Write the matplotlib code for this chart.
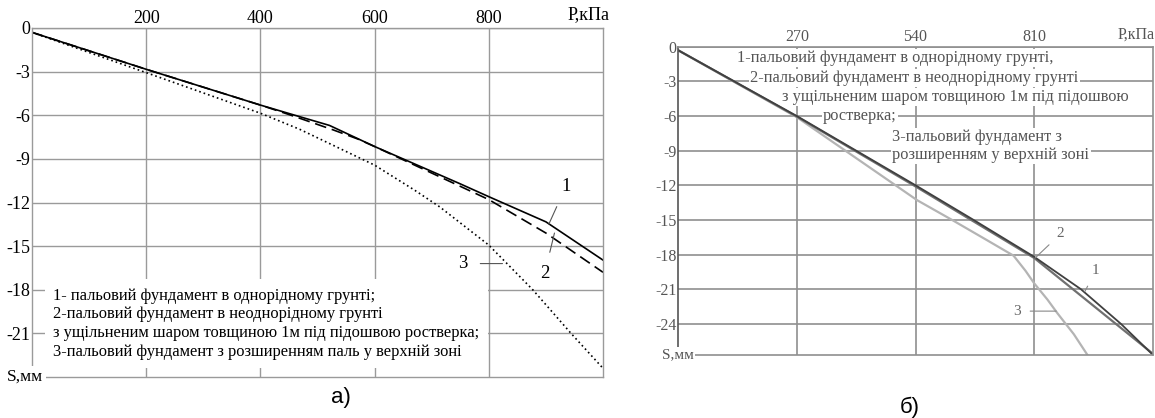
import matplotlib.pyplot as plt

plt.rcParams['font.family'] = ['Liberation Serif', 'DejaVu Serif']

# ---- panel a): settlement S (mm) vs load P (kPa)
p1_a = [0, 200, 400, 469, 521, 600, 749, 800, 900, 1000]
s1_a = [-0.3, -2.84, -5.3, -6.1, -6.7, -8.15, -10.7, -11.6, -13.33, -15.96]
p2_a = [0, 200, 400, 450, 527, 571, 600, 800, 900, 1000]
s2_a = [-0.3, -2.84, -5.3, -5.95, -7.0, -7.64, -8.15, -11.8, -14.1, -16.8]
p3_a = [0, 200, 400, 469, 600, 670, 714, 800, 877, 944, 1000]
s3_a = [-0.3, -3.07, -5.86, -6.97, -9.43, -11.15, -12.3, -14.93, -18.0, -21.0, -23.4]

xticks_a = [200, 400, 600, 800]
yticks_a = [0, -3, -6, -9, -12, -15, -18, -21]

legend_a = [
    "1- пальовий фундамент в однорідному грунті;",
    "2-пальовий фундамент в неоднорідному грунті",
    "з ущільненим шаром товщиною 1м під підошвою ростверка;",
    "3-пальовий фундамент з розширенням паль у верхній зоні",
]

# ---- panel б)
p1_b = [0, 270, 405, 540, 672, 810, 916, 1007, 1080]
s1_b = [-0.3, -6.0, -9.0, -12.0, -15.0, -18.2, -21.0, -24.0, -26.7]
p2_b = [0, 270, 540, 810, 1080]
s2_b = [-0.3, -6.05, -12.1, -18.3, -26.6]
p3_b = [0, 270, 544, 623, 700, 763, 790, 810, 840, 863, 900, 931]
s3_b = [-0.3, -6.1, -13.3, -15.0, -16.7, -18.1, -19.4, -20.5, -21.9, -23.1, -24.9, -26.7]

xticks_b = [270, 540, 810]
yticks_b = [0, -3, -6, -9, -12, -15, -18, -21, -24]

legend_b = [
    "1-пальовий фундамент в однорідному грунті,",
    "2-пальовий фундамент в неоднорідному грунті",
    "з ущільненим шаром товщиною 1м під підошвою",
    "ростверка;",
    "3-пальовий фундамент з",
    "розширенням у верхній зоні",
]
legend_b_pos = [(134, -0.98), (164, -2.7), (237, -4.36), (330, -6.0),
                (487, -7.83), (487, -9.39)]

W, H = 1155, 418
fig = plt.figure(figsize=(W / 100, H / 100), dpi=100)


def frame(ax, xlim, ylim, xticks, yticks, color, lw, fs, tcolor):
    ax.set_xlim(*xlim)
    ax.set_ylim(*ylim)
    ax.xaxis.tick_top()
    ax.set_xticks(xticks)
    ax.set_yticks(yticks)
    ax.set_yticklabels([str(v) for v in yticks])
    ax.tick_params(length=0, labelsize=fs, labelcolor=tcolor, pad=1)
    for s in ax.spines.values():
        s.set_color(color)
        s.set_linewidth(lw)
    ax.grid(True, color=color, linewidth=lw)
    ax.set_axisbelow(True)


# ---------------- a)
ax = fig.add_axes([32 / W, 1 - 377 / H, 571 / W, 349 / H])
frame(ax, (0, 1000), (-24, 0), xticks_a, yticks_a, '#9a9a9a', 1.0, 13, 'black')
ax.plot(p1_a, s1_a, color='black', lw=1.2)
ax.plot(p2_a, s2_a, color='black', lw=1.2, dashes=(7, 3.5))
ax.plot(p3_a, s3_a, color='black', lw=1.2, dashes=(1, 1.8))

ax.text(975, 0.35, "Р,кПа", ha='center', va='bottom', fontsize=13)
ax.text(19, -24, "S,мм", ha='right', va='center', fontsize=12.5,
        bbox=dict(facecolor='white', edgecolor='none', pad=2))
ax.text(37, -17.85, "\n".join(legend_a), ha='left', va='top', fontsize=11.9,
        linespacing=1.23,
        bbox=dict(facecolor='white', edgecolor='none', pad=6))

for lbl, xy, xyt in [("1", (905, -13.5), (935, -10.9)),
                     ("2", (915, -14.1), (898, -16.85)),
                     ("3", (824, -16.2), (755, -16.2))]:
    ax.annotate(lbl, xy=xy, xytext=xyt, fontsize=13.5, ha='center', va='center',
                arrowprops=dict(arrowstyle='-', color='#555555', lw=0.8,
                                shrinkA=7, shrinkB=0))

fig.text(341 / W, 1 - 398 / H, "а)", fontsize=16, family='Liberation Sans',
         ha='center', va='center')

# ---------------- б)
bx = fig.add_axes([678 / W, 1 - 355 / H, 475 / W, 308.3 / H])
frame(bx, (0, 1080), (-26.7, 0), xticks_b, yticks_b, '#8f8f8f', 1.2, 11.5, '#555555')
bx.spines['left'].set_color('#555555')
bx.plot(p3_b, s3_b, color='#b4b4b4', lw=1.6)
bx.plot(p2_b, s2_b, color='#707070', lw=1.6)
bx.plot(p1_b, s1_b, color='#404040', lw=1.3)

for txt, (x, y) in zip(legend_b, legend_b_pos):
    bx.text(x, y, txt, ha='left', va='center', fontsize=11.8, color='#555555',
            bbox=dict(facecolor='white', edgecolor='none', pad=1))

bx.text(1000, 0.35, "Р,кПа", ha='left', va='bottom', fontsize=11.5, color='#555555')
bx.text(0, -26.7, "S,мм", ha='center', va='center', fontsize=11, color='#555555',
        bbox=dict(facecolor='white', edgecolor='none', pad=1))

for lbl, xy, xyt in [("2", (812, -18.3), (870, -16.2)),
                     ("1", (925, -21.2), (950, -19.4)),
                     ("3", (860, -22.9), (770, -22.9))]:
    bx.annotate(lbl, xy=xy, xytext=xyt, fontsize=11, color='#666666',
                ha='center', va='center',
                arrowprops=dict(arrowstyle='-', color='#888888', lw=0.8,
                                shrinkA=5, shrinkB=0))

fig.text(910 / W, 1 - 407 / H, "б)", fontsize=16, family='Liberation Sans',
         ha='center', va='center')

fig.savefig("out.png", dpi=100)
